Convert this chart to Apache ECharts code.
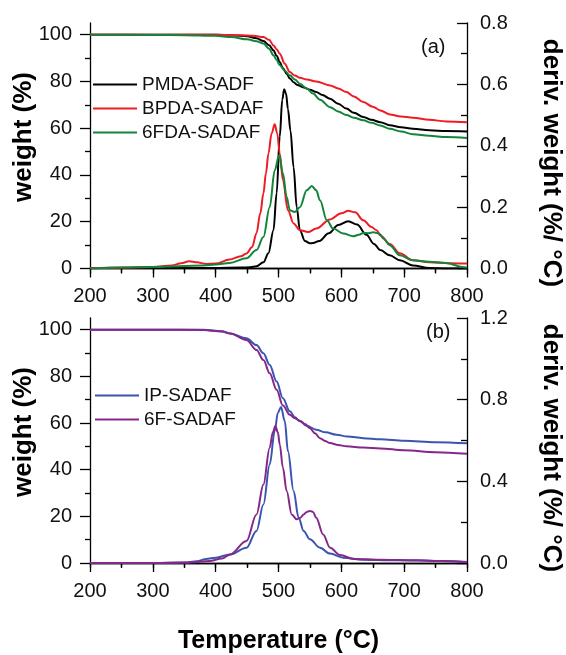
<!DOCTYPE html>
<html>
<head>
<meta charset="utf-8">
<script src="https://cdn.jsdelivr.net/npm/echarts@6/dist/echarts.min.js"></script>
<style>
html,body{margin:0;padding:0;background:#fff;}
#chart{width:566px;height:655px;}
</style>
</head>
<body>
<div id="chart"></div>
<script>
// ---------- Data ----------
const xTicks = [200, 300, 400, 500, 600, 700, 800];
const weightTicks = [0, 20, 40, 60, 80, 100];
const weightMinorTicks = [10, 30, 50, 70, 90];

// Panel (a) — TGA (weight %)
const pmdaTgaT = [200,300,400,430,450,465,476,485,492,497,502,507,513,518,524,530,540,550,560,570,582,595,608,620,635,648,662,677,695,714,740,767,800];
const pmdaTgaW = [100,100,100,99.7,99.3,98.5,97.3,95.5,93.3,91,88.3,85.8,83.3,81.3,79.7,78.5,77.4,76.5,75.5,74.2,72.6,70.5,68.4,66.6,64.8,63.6,62.6,61.3,60.4,59.8,59.1,58.8,58.6];
const bpdaTgaT = [200,300,400,440,460,476,485,492,497,502,510,518,526,534,545,560,582,595,608,620,635,650,662,677,695,714,740,767,800];
const bpdaTgaW = [100,100,100,99.8,99.5,99,97.8,95.4,93.8,91.9,87.6,84,82.5,81.6,80.8,80,78.3,77,75.5,73.6,71.2,69.2,67.6,65.9,65,64.5,63.6,62.9,62.6];
const fdaTgaT = [200,300,350,400,425,450,465,476,485,492,497,502,510,518,526,534,545,555,566,582,595,608,620,635,648,662,677,695,714,740,767,800];
const fdaTgaW = [100,99.9,99.8,99.5,99,98,97.2,96.2,94,91.2,89.2,86.9,84.6,82.6,80.8,79,77,74.8,72.2,69,67.2,65.6,64.5,63.4,62.3,61.2,59.8,58.6,57.4,56.8,56.2,55.8];

// Panel (a) — DTG (deriv. weight %/°C)
const pmdaDtgT = [200,300,400,440,455,465,476,484,492,497,502,506,509,512,515,519,524,529,534,542,550,555,565,580,595,611,625,640,652,662,677,693,714,740,770,800];
const pmdaDtgR = [0.002,0.002,0.002,0.003,0.004,0.007,0.02,0.05,0.125,0.245,0.43,0.55,0.584,0.57,0.52,0.45,0.33,0.2,0.125,0.09,0.082,0.083,0.09,0.115,0.142,0.154,0.143,0.11,0.08,0.06,0.043,0.027,0.01,0.002,0,0];
const bpdaDtgT = [200,250,300,330,345,358,370,385,400,422,440,449,458,465,471,476,480,484,489,494,498,502,507,515,524,534,547,560,582,600,611,622,635,648,656,662,677,693,714,740,770,800];
const bpdaDtgR = [0.001,0.003,0.005,0.01,0.017,0.024,0.02,0.015,0.016,0.029,0.04,0.049,0.07,0.115,0.18,0.245,0.31,0.375,0.44,0.47,0.44,0.375,0.288,0.19,0.147,0.125,0.119,0.13,0.16,0.18,0.188,0.183,0.157,0.135,0.125,0.108,0.08,0.05,0.027,0.02,0.017,0.016];
const fdaDtgT = [200,300,380,400,422,449,465,476,486,494,501,507,513,518,526,534,545,553,560,566,577,587,603,619,628,635,643,651,660,667,677,693,714,740,767,793,800];
const fdaDtgR = [0,0.005,0.01,0.013,0.018,0.033,0.06,0.103,0.2,0.32,0.369,0.31,0.233,0.19,0.184,0.2,0.255,0.269,0.255,0.222,0.157,0.13,0.114,0.105,0.11,0.116,0.115,0.118,0.114,0.098,0.076,0.043,0.027,0.022,0.018,0.005,0.003];

// Panel (b) — TGA
const ipTgaT = [200,300,380,410,423,449,465,476,486,497,507,518,526,534,545,560,575,592,610,635,662,700,750,800];
const ipTgaW = [100,100,100,99.3,98.4,96.3,93.4,89.9,84.9,77.8,70.6,65,62.5,60.7,58.8,57.1,56,55,54.2,53.5,53,52.4,51.8,51.3];
const f6TgaT = [200,300,380,410,423,449,465,476,486,497,507,518,526,534,542,550,558,566,574,582,595,608,635,662,700,750,800];
const f6TgaW = [100,100,99.9,99.2,98.4,95.6,91.3,87,81.3,74.2,67.5,63.5,62,61,59.6,57.8,55.6,53.5,52.3,51.4,50.6,50,49.5,49.1,48.3,47.5,46.8];

// Panel (b) — DTG
const ipDtgT = [200,300,350,370,385,400,423,449,465,476,486,494,499,504,510,515,524,532,540,550,566,582,603,635,677,720,760,800];
const ipDtgR = [0,0,0.002,0.008,0.02,0.026,0.042,0.075,0.157,0.287,0.483,0.646,0.736,0.764,0.695,0.548,0.353,0.222,0.157,0.116,0.075,0.046,0.026,0.016,0.014,0.012,0.01,0.005];
const f6DtgT = [200,300,360,390,410,423,449,465,476,486,491,495,499,502,507,513,521,529,535,540,545,550,555,560,571,582,598,620,660,720,760,800];
const f6DtgR = [0,0,0.002,0.01,0.022,0.042,0.108,0.238,0.385,0.565,0.64,0.671,0.64,0.581,0.467,0.353,0.238,0.214,0.222,0.238,0.25,0.255,0.25,0.222,0.14,0.075,0.039,0.02,0.016,0.013,0.01,0.004];

// ---------- Chart ----------
const FONT = "'Liberation Sans', Arial, sans-serif";
const zip = (xs, ys) => xs.map((x, i) => [x, ys[i]]);
const chart = echarts.init(document.getElementById('chart'), null, {renderer: 'canvas'});

const axisLineStyle = {color: '#000', width: 1.3};
const labelStyle = {color: '#111', fontSize: 20, fontFamily: FONT};
const titleFont = {fontSize: 26, fontWeight: 'bold', fontFamily: FONT, fill: '#000'};

function bottomX(grid, withName) {
  const ax = {
    type: 'value', gridIndex: grid, position: 'bottom', min: 200, max: 800, interval: 100,
    axisLine: {lineStyle: axisLineStyle},
    axisTick: {length: 9, lineStyle: axisLineStyle},
    minorTick: {show: true, splitNumber: 2, length: 5, lineStyle: axisLineStyle},
    axisLabel: {...labelStyle, margin: 18, customValues: xTicks},
    splitLine: {show: false}
  };
  if (withName) {
    ax.name = 'Temperature (°C)';
    ax.nameLocation = 'middle';
    ax.nameGap = 66;
    ax.nameTextStyle = {color: '#000', fontSize: 25, fontWeight: 'bold', fontFamily: FONT};
  }
  return ax;
}
function topX(grid) {
  return {
    type: 'value', gridIndex: grid, position: 'top', min: 200, max: 800, interval: 100,
    axisLine: {lineStyle: axisLineStyle},
    axisTick: {inside: true, length: 5, lineStyle: axisLineStyle},
    minorTick: {show: true, splitNumber: 2, length: 4, lineStyle: axisLineStyle},
    axisLabel: {show: false}, splitLine: {show: false}
  };
}
function leftY(grid) {
  return {
    type: 'value', gridIndex: grid, position: 'left', min: 0, max: 105,
    axisLine: {show: true, lineStyle: axisLineStyle},
    axisTick: {length: 10, lineStyle: axisLineStyle, customValues: weightTicks},
    axisLabel: {...labelStyle, margin: 18, customValues: weightTicks},
    splitLine: {show: false}
  };
}
function leftMinorY(grid) {
  return {
    type: 'value', gridIndex: grid, position: 'left', min: 0, max: 105,
    axisLine: {show: false},
    axisTick: {length: 5, lineStyle: axisLineStyle, customValues: weightMinorTicks},
    axisLabel: {show: false}, splitLine: {show: false}
  };
}
function rightY(grid, max, interval) {
  return {
    type: 'value', gridIndex: grid, position: 'right', min: 0, max: max, interval: interval,
    axisLine: {show: true, lineStyle: axisLineStyle},
    axisTick: {inside: true, length: 10, lineStyle: axisLineStyle},
    minorTick: {show: true, splitNumber: 2, length: 6, lineStyle: axisLineStyle},
    axisLabel: {...labelStyle, margin: 13, formatter: v => v.toFixed(1)},
    splitLine: {show: false}
  };
}

function line(name, color, xi, yi, xs, ys) {
  return {
    type: 'line', name: name, xAxisIndex: xi, yAxisIndex: yi,
    data: zip(xs, ys), showSymbol: false, symbol: 'none',
    smooth: 0.35, smoothMonotone: 'x',
    lineStyle: {color: color, width: 2}, itemStyle: {color: color},
    emphasis: {disabled: true}
  };
}

const C = {black: '#000000', red: '#ee1c24', green: '#13853a', blue: '#3a55b0', purple: '#85288a'};
const legendIcon = 'path://M0,0H44V2.2H0Z';

function vtitle(text, x, y, rot) {
  return {type: 'text', x: x, y: y, rotation: rot,
    style: {text: text, align: 'center', verticalAlign: 'middle', ...titleFont}};
}

const option = {
  backgroundColor: '#fff',
  animation: false,
  textStyle: {fontFamily: FONT},
  grid: [
    {left: 90, top: 23, width: 377, height: 245.5},
    {left: 90, top: 318, width: 377, height: 245.5}
  ],
  xAxis: [bottomX(0, false), topX(0), bottomX(1, true), topX(1)],
  yAxis: [
    leftY(0), leftMinorY(0), rightY(0, 0.8, 0.2),
    leftY(1), leftMinorY(1), rightY(1, 1.2, 0.4)
  ],
  legend: [
    {
      data: ['PMDA-SADF', 'BPDA-SADAF', '6FDA-SADAF'], icon: legendIcon,
      orient: 'vertical', left: 88, top: 70, itemWidth: 44, itemHeight: 14, itemGap: 5,
      textStyle: {color: '#111', fontSize: 19, fontFamily: FONT}, selectedMode: false
    },
    {
      data: ['IP-SADAF', '6F-SADAF'], icon: legendIcon,
      orient: 'vertical', left: 90, top: 381, itemWidth: 44, itemHeight: 14, itemGap: 5,
      textStyle: {color: '#111', fontSize: 19, fontFamily: FONT}, selectedMode: false
    }
  ],
  graphic: [
    {type: 'text', left: 421, top: 37, style: {text: '(a)', fontSize: 20, fontFamily: FONT, fill: '#111'}},
    {type: 'text', left: 426, top: 322, style: {text: '(b)', fontSize: 20, fontFamily: FONT, fill: '#111'}},
    vtitle('weight (%)', 24, 137, Math.PI / 2),
    vtitle('weight (%)', 24, 432, Math.PI / 2),
    vtitle('deriv. weight (%/ °C)', 551, 163, -Math.PI / 2),
    vtitle('deriv. weight (%/ °C)', 551, 448, -Math.PI / 2)
  ],
  series: [
    line('PMDA-SADF', C.black, 0, 0, pmdaTgaT, pmdaTgaW),
    line('BPDA-SADAF', C.red, 0, 0, bpdaTgaT, bpdaTgaW),
    line('6FDA-SADAF', C.green, 0, 0, fdaTgaT, fdaTgaW),
    line('PMDA-SADF', C.black, 0, 2, pmdaDtgT, pmdaDtgR),
    line('BPDA-SADAF', C.red, 0, 2, bpdaDtgT, bpdaDtgR),
    line('6FDA-SADAF', C.green, 0, 2, fdaDtgT, fdaDtgR),
    line('IP-SADAF', C.blue, 2, 3, ipTgaT, ipTgaW),
    line('6F-SADAF', C.purple, 2, 3, f6TgaT, f6TgaW),
    line('IP-SADAF', C.blue, 2, 5, ipDtgT, ipDtgR),
    line('6F-SADAF', C.purple, 2, 5, f6DtgT, f6DtgR)
  ]
};
chart.setOption(option);
</script>
</body>
</html>
